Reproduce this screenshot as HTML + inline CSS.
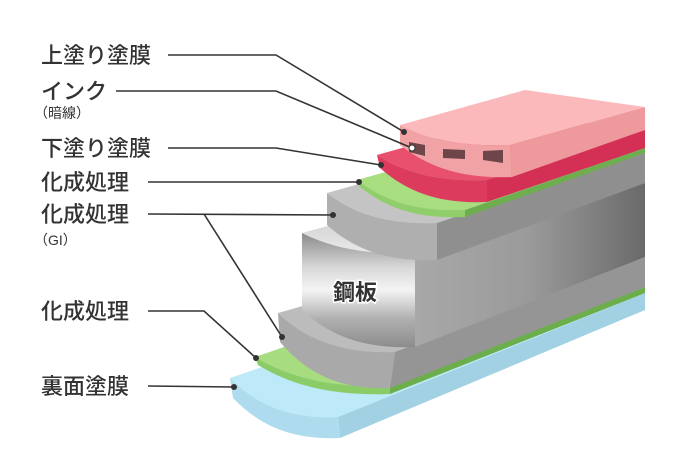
<!DOCTYPE html>
<html><head><meta charset="utf-8"><style>
html,body{margin:0;padding:0;background:#fff;}
svg{display:block}
text{font-family:"Liberation Sans","Noto Sans CJK JP",sans-serif;fill:#333;}
</style></head><body>
<svg width="690" height="450" viewBox="0 0 690 450" xmlns="http://www.w3.org/2000/svg">
<defs>
<linearGradient id="stf" x1="0" y1="0" x2="0" y2="1">
<stop offset="0" stop-color="#8a8a8a"/><stop offset="0.3" stop-color="#d8d8d8"/><stop offset="0.5" stop-color="#f4f4f4"/><stop offset="0.75" stop-color="#b0b0b0"/><stop offset="1" stop-color="#8c8c8c"/></linearGradient>
<linearGradient id="str" x1="0" y1="0" x2="1" y2="0">
<stop offset="0" stop-color="#a8a8a8"/><stop offset="0.5" stop-color="#9a9a9a"/><stop offset="1" stop-color="#6a6a6a"/></linearGradient>
<linearGradient id="stt" x1="0" y1="0" x2="0" y2="1">
<stop offset="0" stop-color="#bdbdbd"/><stop offset="1" stop-color="#e8e8e8"/></linearGradient>
</defs>
<path d="M230,378 L400,320 L645,293 L338,417 C289,419 257,405 230,378Z" fill="#bde9f8"/>
<path d="M338,417 L645,293 L645,310 L340,438Z" fill="#a2d1e4"/>
<path d="M230,378 C257,405 289,419 338,417 L340,438 C292,440 260,426 233,398Z" fill="#aedcee"/>
<path d="M255,357 L420,300 L645,287 L390,386 C329,388 289,377 255,357Z" fill="#a8dc80"/>
<path d="M390,386 L645,287 L645,293 L390,394Z" fill="#6cad4c"/>
<path d="M255,357 C289,377 329,388 390,386 L390,394 C330.6,396 291,385 258,365Z" fill="#8ccc68"/>
<path d="M278,313 L430,270 L645,257 L395,352 C342,354 307,340 278,313Z" fill="#bcbcbc"/>
<path d="M395,352 L645,257 L645,287 L390,388Z" fill="#959595"/>
<path d="M278,313 C307,340 342,354 395,352 L390,388 C340.5,390 307.5,374 280,342Z" fill="#a9a9a9"/>
<path d="M302,233 L460,190 L645,183 L415,253 C364,255 330,247 302,233Z" fill="url(#stt)"/>
<path d="M415,253 L645,183 L645,257 L415,347Z" fill="url(#str)"/>
<path d="M302,233 C330,247 364,255 415,253 L415,347 C364,349 330,336 302,310Z" fill="url(#stf)"/>
<path d="M327,193 L480,150 L645,153 L437,223 C387.5,225 354.5,214 327,193Z" fill="#c4c4c4"/>
<path d="M437,223 L645,153 L645,183 L437,260Z" fill="#8f8f8f"/>
<path d="M327,193 C354.5,214 387.5,225 437,223 L437,260 C387.5,262 354.5,249.5 327,225Z" fill="#afafaf"/>
<path d="M357,180 L500,140 L645,148 L465,210 C416.4,212 384,201 357,180Z" fill="#a8dd80"/>
<path d="M465,210 L645,148 L645,153 L465,217Z" fill="#6fae4f"/>
<path d="M357,180 C384,201 416.4,212 465,210 L465,217 C417.8,219 386,208 360,187Z" fill="#8fce6a"/>
<path d="M377,155 L520,115 L645,130 L487,180 C437.5,182 404.5,172.5 377,155Z" fill="#e8506e"/>
<path d="M487,180 L645,130 L645,148 L487,202Z" fill="#d42f55"/>
<path d="M377,155 C404.5,172.5 437.5,182 487,180 L487,202 C438.9,204 406.8,191.8 380,168Z" fill="#dc3b5e"/>
<path d="M400,125 L525,90 L645,107 L510,145 C460.5,147 427.5,139 400,125Z" fill="#fbb9bb"/>
<path d="M510,145 L645,107 L645,130 L512,177Z" fill="#ee9a9c"/>
<path d="M400,125 C427.5,139 460.5,147 510,145 L512,177 C461.6,179 428,167 400,145Z" fill="#f0a2a4"/>
<path d="M409,142 L425,145 L425,156 L409,152Z" fill="#6e4548"/>
<path d="M443,149 L465,150 L465,159 L443,158Z" fill="#6e4548"/>
<path d="M483,151 L503,150 L503,163 L483,160Z" fill="#6e4548"/>
<g stroke="#333" stroke-width="1.6" fill="none">
<polyline points="168,55 276,55 404,132"/>
<polyline points="116,91 276,91 412,148"/>
<polyline points="168,148 276,148 381,165"/>
<polyline points="148,182 359,182"/>
<polyline points="148,214 333,215"/>
<polyline points="204,214 282,337"/>
<polyline points="148,311 204,311 256,358"/>
<polyline points="148,386 234,387"/>
</g>
<g fill="#333">
<circle cx="404" cy="132" r="3"/>
<circle cx="381" cy="165" r="3"/>
<circle cx="359" cy="182" r="3"/>
<circle cx="333" cy="215" r="3"/>
<circle cx="282" cy="337" r="3"/>
<circle cx="256" cy="358" r="3"/>
<circle cx="234" cy="387" r="3"/>
</g>
<circle cx="412" cy="148" r="3" fill="#fff" stroke="#333" stroke-width="1"/>
<g font-size="22" font-weight="500">
<text x="41" y="63">上塗り塗膜</text>
<text x="41" y="99">インク</text>
<text x="41" y="156">下塗り塗膜</text>
<text x="41" y="190">化成処理</text>
<text x="41" y="222">化成処理</text>
<text x="41" y="319">化成処理</text>
<text x="41" y="394">裏面塗膜</text>
</g>
<text x="34" y="118" font-size="14">（暗線）</text>
<text x="34" y="245" font-size="14">（GI）</text>
<text x="333" y="300" font-size="22" font-weight="bold" fill="#333" stroke="#fff" stroke-width="3" paint-order="stroke">鋼板</text>
</svg>
</body></html>
